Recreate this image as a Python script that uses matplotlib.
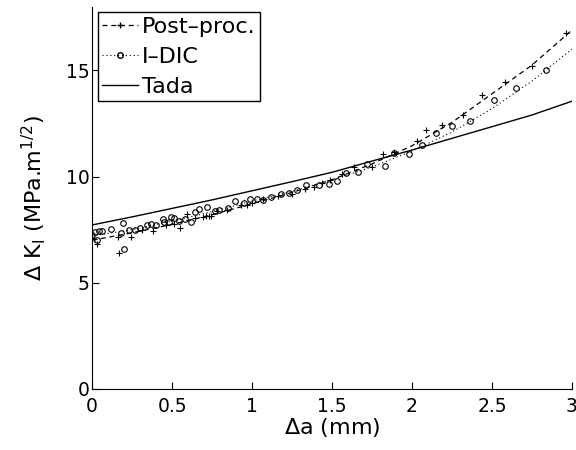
import matplotlib
matplotlib.use("Agg")
import matplotlib.pyplot as plt
from matplotlib.lines import Line2D

# Post-proc. measurements (+)
post_x = [0.00, 0.01, 0.03, 0.16, 0.17, 0.24, 0.31, 0.38, 0.46, 0.51, 0.55, 0.59, 0.64, 0.69,
          0.71, 0.73, 0.74, 0.78, 0.84, 0.93, 0.97, 1.00, 1.07, 1.16, 1.25, 1.33, 1.39, 1.44,
          1.49, 1.56, 1.64, 1.75, 1.82, 1.89, 2.03, 2.09, 2.19, 2.32, 2.44, 2.58, 2.75, 2.96]
post_y = [7.10, 7.05, 6.80, 7.14, 6.40, 7.15, 7.47, 7.42, 7.73, 7.76, 7.57, 8.23, 8.05, 8.10,
          8.12, 8.14, 8.14, 8.38, 8.44, 8.68, 8.65, 8.75, 8.94, 9.07, 9.20, 9.42, 9.51, 9.70,
          9.86, 10.12, 10.44, 10.44, 11.07, 11.15, 11.67, 12.18, 12.45, 12.88, 13.85, 14.45, 15.22, 16.78]

# I-DIC measurements (o)
dic_x = [0.00, 0.02, 0.03, 0.04, 0.06, 0.12, 0.18, 0.19, 0.20, 0.23, 0.27, 0.30, 0.34, 0.37,
         0.40, 0.44, 0.45, 0.48, 0.49, 0.51, 0.54, 0.58, 0.62, 0.64, 0.67, 0.72, 0.77, 0.79,
         0.85, 0.89, 0.95, 0.99, 1.03, 1.07, 1.12, 1.18, 1.23, 1.28, 1.34, 1.42, 1.48, 1.53,
         1.59, 1.66, 1.72, 1.83, 1.89, 1.98, 2.06, 2.15, 2.25, 2.36, 2.51, 2.65, 2.84]
dic_y = [7.26, 7.37, 7.03, 7.42, 7.45, 7.55, 7.34, 7.81, 6.60, 7.50, 7.50, 7.57, 7.73, 7.76,
         7.73, 8.02, 7.85, 7.85, 8.08, 8.05, 7.90, 8.00, 7.86, 8.33, 8.48, 8.57, 8.38, 8.44,
         8.52, 8.84, 8.75, 8.92, 8.96, 8.88, 9.03, 9.18, 9.22, 9.35, 9.62, 9.62, 9.64, 9.79,
         10.17, 10.23, 10.57, 10.49, 11.10, 11.05, 11.50, 12.06, 12.40, 12.64, 13.63, 14.17, 15.00]

# fitted curves and Tada solution
curve_x = [0.0, 0.25, 0.5, 0.75, 1.0, 1.25, 1.5, 1.75, 2.0, 2.25, 2.5, 2.75, 3.0]
post_fit = [7.0, 7.35, 7.75, 8.2, 8.72, 9.25, 9.85, 10.6, 11.45, 12.55, 13.9, 15.25, 16.9]
dic_fit = [7.2, 7.5, 7.9, 8.35, 8.85, 9.3, 9.85, 10.45, 11.2, 12.1, 13.2, 14.5, 16.0]
tada = [7.72, 8.1, 8.5, 8.9, 9.33, 9.76, 10.2, 10.73, 11.25, 11.8, 12.35, 12.9, 13.55]

xticks = [0, 0.5, 1, 1.5, 2, 2.5, 3]
xticklabels = ["0", "0.5", "1", "1.5", "2", "2.5", "3"]
yticks = [0, 5, 10, 15]


def main():
    fig = plt.figure(figsize=(5.76, 4.5), dpi=100)
    ax = fig.add_axes([0.16, 0.136, 0.833, 0.849])

    dash = (0, (4, 3))
    dot = (0, (1, 2.5))
    ax.plot(curve_x, post_fit, color="k", ls=dash, lw=0.9)
    ax.plot(post_x, post_y, "k+", ms=5, mew=0.8)
    ax.plot(curve_x, dic_fit, color="k", ls=dot, lw=0.8)
    ax.plot(dic_x, dic_y, "ko", mfc="none", ms=4, mew=0.8)
    ax.plot(curve_x, tada, "k-", lw=1.0)

    ax.set_xlim(0, 3)
    ax.set_ylim(0, 18)
    ax.set_xticks(xticks)
    ax.set_xticklabels(xticklabels)
    ax.set_yticks(yticks)
    ax.tick_params(direction="in", length=5, labelsize=13.5)
    ax.tick_params(axis="x", pad=6)
    ax.tick_params(axis="y", pad=2)
    ax.spines["top"].set_visible(False)
    ax.spines["right"].set_visible(False)

    ax.set_xlabel(r"$\Delta$a (mm)", fontsize=16, labelpad=0)
    ax.set_ylabel(r"$\Delta$ K$_\mathrm{I}$ (MPa.m$^{1/2}$)", fontsize=16, labelpad=13)

    handles = [
        Line2D([], [], color="k", ls=dash, marker="+", ms=5, lw=0.9),
        Line2D([], [], color="k", ls=dot, marker="o", mfc="none", ms=4, lw=0.8),
        Line2D([], [], color="k", ls="-", lw=1.0),
    ]
    leg = ax.legend(handles, ["Post\u2013proc.", "I\u2013DIC", "Tada"], loc="upper left",
                    fontsize=16, fancybox=False, edgecolor="k", framealpha=1,
                    handlelength=1.6, handletextpad=0.2, borderpad=0.2,
                    labelspacing=0.45, borderaxespad=0.25)
    leg.get_frame().set_linewidth(1.0)

    fig.savefig("out.png", dpi=100)


if __name__ == "__main__":
    main()
